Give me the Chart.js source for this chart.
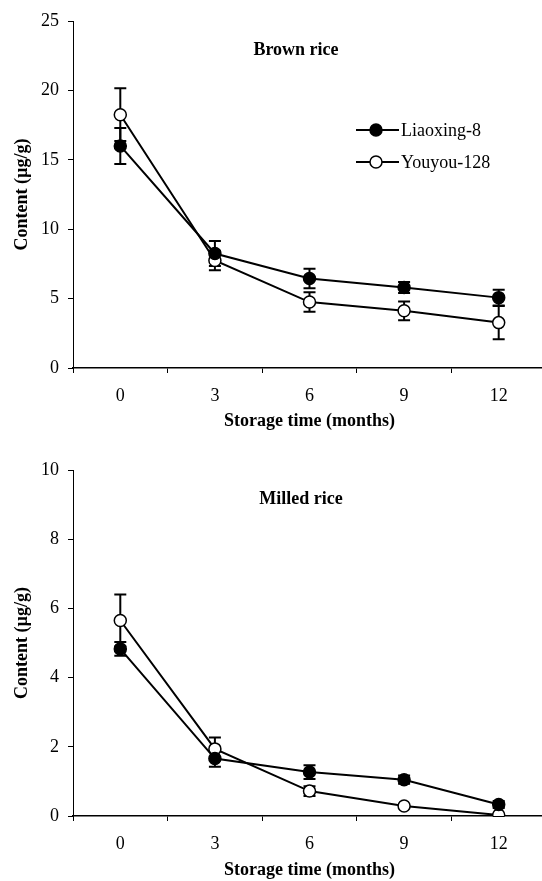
<!DOCTYPE html>
<html>
<head>
<meta charset="utf-8" />
<title>Storage time content</title>
<script src="https://cdn.jsdelivr.net/npm/chart.js@4.4.0/dist/chart.umd.min.js"></script>
<style>
  body { margin: 0; background: #fff; overflow: hidden; }
  #wrap { position: relative; width: 542px; height: 881px; overflow: hidden; }
  #top { position: absolute; left: 0; top: 0; }
  #bottom { position: absolute; left: 0; top: 440px; }
</style>
</head>
<body>
<div id="wrap">
  <!-- the original figure is cut off on the right, so the canvases run past the page edge -->
  <canvas id="top" width="560" height="440"></canvas>
  <canvas id="bottom" width="560" height="441"></canvas>
</div>
<script>
// storage months (x categories)
var months = ['0', '3', '6', '9', '12'];
var seriesNames = ['Liaoxing-8', 'Youyou-128'];

// brown rice, content in ug/g, with error bars
var brownLiaoxing = [16.0, 8.25, 6.45, 5.8, 5.07];
var brownLiaoxingErr = [1.3, 0.9, 0.7, 0.4, 0.57];
var brownYouyou = [18.25, 7.75, 4.75, 4.12, 3.27];
var brownYouyouErr = [1.9, 0.7, 0.7, 0.68, 1.2];

// milled rice
var millLiaoxing = [4.83, 1.66, 1.27, 1.05, 0.33];
var millLiaoxingErr = [0.2, 0.24, 0.2, 0.12, 0.1];
var millYouyou = [5.65, 1.94, 0.72, 0.29, 0.03];
var millYouyouErr = [0.75, 0.33, 0.14, 0.04, 0.03];

var brownTicks = { min: 0, max: 25, step: 5 };
var millTicks = { min: 0, max: 10, step: 2 };

var serif = "'Liberation Serif', 'Times New Roman', serif";

// error bars, panel title and legend
var panelPlugin = {
    id: 'panel',
    beforeDatasetsDraw: function(chart, args, opts) {
        var ctx = chart.ctx;
        var yScale = chart.scales.y;
        ctx.save();
        ctx.strokeStyle = '#000';
        ctx.lineWidth = 2;
        chart.data.datasets.forEach(function(ds, d) {
            var meta = chart.getDatasetMeta(d);
            ds.data.forEach(function(v, i) {
                var e = opts.errors[d][i];
                if (!e) return;
                var x = meta.data[i].x;
                var yt = yScale.getPixelForValue(v + e);
                var yb = yScale.getPixelForValue(Math.max(0, v - e));
                ctx.beginPath();
                ctx.moveTo(x, yt); ctx.lineTo(x, yb);
                ctx.moveTo(x - 6, yt); ctx.lineTo(x + 6, yt);
                ctx.moveTo(x - 6, yb); ctx.lineTo(x + 6, yb);
                ctx.stroke();
            });
        });
        ctx.restore();
    },
    afterDraw: function(chart, args, opts) {
        var ctx = chart.ctx;
        ctx.save();
        ctx.strokeStyle = '#000';
        ctx.fillStyle = '#000';
        ctx.font = 'bold 18px ' + serif;
        ctx.textAlign = 'center';
        ctx.textBaseline = 'middle';
        ctx.fillText(opts.title, opts.titleX, opts.titleY);

        if (opts.legend) {
            ctx.font = '18px ' + serif;
            ctx.textAlign = 'left';
            chart.data.datasets.forEach(function(ds, d) {
                var y = opts.legendY + d * 32;
                var x = opts.legendX;
                ctx.lineWidth = 2;
                ctx.beginPath();
                ctx.moveTo(x, y); ctx.lineTo(x + 43, y);
                ctx.stroke();
                ctx.beginPath();
                ctx.arc(x + 20, y, 6, 0, Math.PI * 2);
                ctx.fillStyle = ds.pointBackgroundColor;
                ctx.fill();
                ctx.lineWidth = 1.5;
                ctx.stroke();
                ctx.fillStyle = '#000';
                ctx.fillText(ds.label, x + 45, y + 1);
            });
        }
        ctx.restore();
    }
};

function makeChart(id, a, b, errA, errB, yt, title, titleX, titleY, padTop, xHeight, xTitlePad, legend) {
    return new Chart(document.getElementById(id), {
        type: 'line',
        data: {
            labels: months,
            datasets: [{
                label: seriesNames[0],
                data: a,
                borderColor: '#000',
                borderWidth: 2,
                pointRadius: 6,
                pointBorderWidth: 1.5,
                pointBorderColor: '#000',
                pointBackgroundColor: '#000',
                tension: 0,
                fill: false
            }, {
                label: seriesNames[1],
                data: b,
                borderColor: '#000',
                borderWidth: 2,
                pointRadius: 6,
                pointBorderWidth: 1.5,
                pointBorderColor: '#000',
                pointBackgroundColor: '#fff',
                tension: 0,
                fill: false
            }]
        },
        options: {
            responsive: false,
            animation: false,
            devicePixelRatio: 1,
            layout: { padding: { top: padTop, right: 14, left: 0, bottom: 0 } },
            plugins: {
                legend: { display: false },
                tooltip: { enabled: false },
                panel: {
                    errors: [errA, errB],
                    title: title,
                    titleX: titleX,
                    titleY: titleY,
                    legend: legend,
                    legendX: 356,
                    legendY: 130
                }
            },
            scales: {
                x: {
                    offset: true,
                    grid: { offset: true, drawOnChartArea: false, tickLength: 5, color: '#000' },
                    border: { color: '#000', width: 1.5 },
                    ticks: { color: '#000', font: { family: serif, size: 18 }, padding: 12, maxRotation: 0 },
                    title: {
                        display: true,
                        text: 'Storage time (months)',
                        color: '#000',
                        font: { family: serif, size: 18, weight: 'bold' },
                        padding: { top: 0, bottom: xTitlePad }
                    },
                    afterFit: function(s) { s.height = xHeight; }
                },
                y: {
                    min: yt.min,
                    max: yt.max,
                    grid: { drawOnChartArea: false, tickLength: 5, color: '#000' },
                    border: { color: '#000', width: 1 },
                    ticks: { stepSize: yt.step, color: '#000', font: { family: serif, size: 18 }, padding: 9 },
                    title: {
                        display: true,
                        text: 'Content (µg/g)',
                        color: '#000',
                        font: { family: serif, size: 18, weight: 'bold' },
                        padding: { top: 12, bottom: 0 }
                    },
                    afterFit: function(s) { s.width = 73; }
                }
            }
        },
        plugins: [panelPlugin]
    });
}

makeChart('top', brownLiaoxing, brownYouyou, brownLiaoxingErr, brownYouyouErr,
    brownTicks, 'Brown rice', 296, 50, 21, 72, 8, true);
makeChart('bottom', millLiaoxing, millYouyou, millLiaoxingErr, millYouyouErr,
    millTicks, 'Milled rice', 301, 59, 30, 65, 0, false);
</script>
</body>
</html>
